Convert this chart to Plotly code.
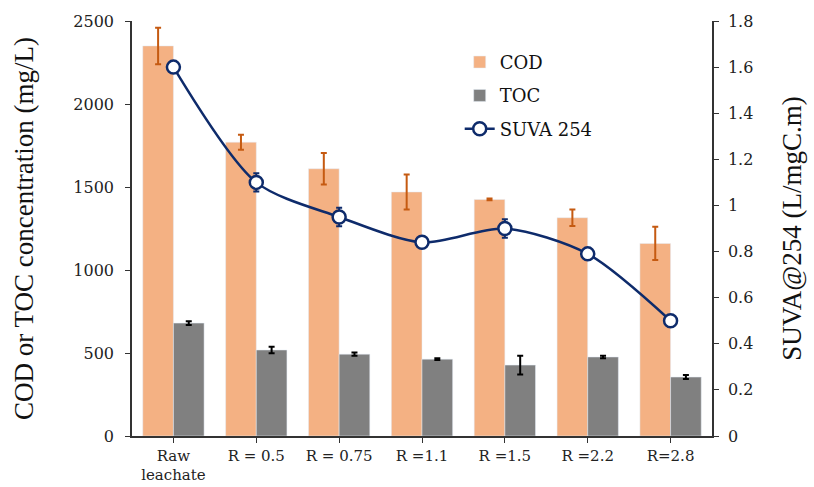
import plotly.graph_objects as go

categories = ["Raw<br>leachate", "R = 0.5", "R = 0.75", "R =1.1", "R =1.5", "R =2.2", "R=2.8"]
cod = [2350, 1770, 1610, 1470, 1425, 1315, 1160]
cod_err = [110, 45, 95, 105, 5, 50, 100]
toc = [680, 518, 493, 463, 427, 476, 355]
toc_err = [12, 20, 10, 5, 57, 8, 12]
suva = [1.60, 1.10, 0.95, 0.84, 0.90, 0.79, 0.50]
suva_err = [0.0, 0.04, 0.04, 0.0, 0.04, 0.0, 0.0]

tick_font = dict(family="DejaVu Serif", size=16, color="#222")
xtick_font = dict(family="DejaVu Serif", size=15, color="#222")
title_font = dict(family="Liberation Serif", size=27, color="#111")

fig = go.Figure()
fig.add_trace(go.Bar(
    x=categories, y=cod, name="COD", marker_color="#F4B183", legendgroup="a",
    error_y=dict(type="data", array=cod_err, color="#C55A11", thickness=2, width=3),
))
fig.add_trace(go.Bar(
    x=categories, y=toc, name="TOC", marker_color="#808080", legendgroup="b",
    error_y=dict(type="data", array=toc_err, color="#000000", thickness=2, width=3),
))
fig.add_trace(go.Scatter(
    x=categories, y=suva, name="SUVA 254", yaxis="y2", mode="lines+markers", legendgroup="c",
    line=dict(color="#0E2B6B", width=2.5, shape="spline", smoothing=0.8),
    marker=dict(symbol="circle", size=13, color="white", line=dict(color="#0E2B6B", width=2.5)),
    error_y=dict(type="data", array=suva_err, color="#0E2B6B", thickness=2, width=3),
))

fig.update_layout(
    width=814, height=487,
    margin=dict(l=132, r=102, t=21, b=51),
    plot_bgcolor="white", paper_bgcolor="white",
    barmode="group", bargap=0.26, bargroupgap=0,
    showlegend=True,
    legend=dict(x=0.565, y=0.945, xanchor="left", yanchor="top",
                font=dict(family="DejaVu Serif", size=18, color="#111"),
                bgcolor="rgba(0,0,0,0)", tracegroupgap=7, itemwidth=30),
    xaxis=dict(
        showline=True, linecolor="#333", linewidth=1.5, ticks="outside", ticklen=5,
        tickcolor="#333", tickfont=xtick_font, range=[-0.5, 6.5], showgrid=False,
        automargin=False, ticklabelstandoff=0,
    ),
    yaxis=dict(
        range=[0, 2500], dtick=500, showline=True, linecolor="#333", linewidth=1.5,
        ticks="outside", ticklen=5, tickcolor="#333", tickfont=tick_font, showgrid=False,
        zeroline=False, automargin=False, ticklabelstandoff=8,
        title=dict(text="COD or TOC concentration (mg/L)", font=title_font, standoff=32),
    ),
    yaxis2=dict(
        range=[0, 1.8], dtick=0.2, overlaying="y", side="right", showline=True,
        linecolor="#333", linewidth=1.5, ticks="outside", ticklen=5, tickcolor="#333",
        tickfont=tick_font, showgrid=False, zeroline=False, automargin=False,
        ticklabelstandoff=6,
        title=dict(text="SUVA@254 (L/mgC.m)", font=title_font, standoff=30),
    ),
)

fig.write_html("out.html")
